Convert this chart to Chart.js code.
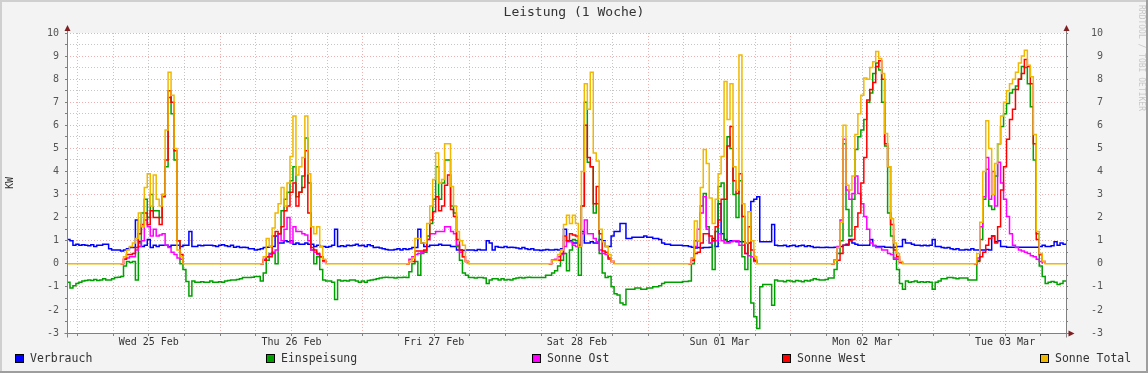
<!DOCTYPE html>
<html>
<head>
<meta charset="utf-8">
<script src="https://cdn.jsdelivr.net/npm/chart.js@4.4.1/dist/chart.umd.min.js"></script>
<style>
  html,body{margin:0;padding:0;background:#f3f3f3;}
  #c{display:block;}
</style>
</head>
<body>
<canvas id="c" width="1148" height="373"></canvas>
<script>
// Leistung (1 Woche) – 30-Minuten-Werte, Start Di 24.02. ca. 22:13, 336 Schritte
const dayLabels = ["Wed 25 Feb","Thu 26 Feb","Fri 27 Feb","Sat 28 Feb","Sun 01 Mar","Mon 02 Mar","Tue 03 Mar"];
const seriesNames = ["Verbrauch","Einspeisung","Sonne Ost","Sonne West","Sonne Total"];

const verbrauch = [
  1.05,1.0,0.8,0.85,0.8,0.82,0.8,0.78,0.82,0.75,0.8,0.8,0.85,0.85,0.65,0.6,0.6,0.6,0.55,0.6,0.65,0.7,0.7,1.9,0.95,0.75,0.8,1.05,0.7,0.8,0.75,0.8,0.8,0.8,0.75,0.8,0.8,0.8,0.75,0.8,0.8,1.4,0.75,0.75,0.8,0.78,0.8,0.8,
  0.8,0.78,0.75,0.8,0.82,0.78,0.75,0.8,0.72,0.75,0.7,0.72,0.7,0.65,0.65,0.6,0.62,0.65,0.7,0.72,0.75,0.75,1.2,0.9,0.9,1.0,0.95,1.0,0.85,0.9,0.85,0.85,0.9,0.85,0.85,0.75,0.8,0.75,0.75,0.72,0.75,0.8,1.5,0.75,0.78,0.75,0.8,0.78,
  0.8,0.85,0.78,0.8,0.75,0.82,0.78,0.7,0.72,0.68,0.65,0.62,0.6,0.6,0.62,0.65,0.6,0.65,0.62,0.65,0.7,0.7,1.5,0.9,0.75,0.75,0.8,0.8,0.8,0.85,0.8,0.8,0.8,0.75,0.75,0.6,0.6,0.58,0.6,0.6,0.6,0.58,0.62,0.6,0.6,1.0,0.9,0.6,
  0.75,0.72,0.7,0.75,0.7,0.72,0.7,0.68,0.65,0.7,0.65,0.62,0.65,0.6,0.6,0.58,0.6,0.62,0.6,0.6,0.62,0.6,0.65,1.5,1.0,1.0,0.9,0.9,0.8,1.4,0.9,0.9,0.95,0.9,0.9,1.05,1.0,0.75,0.75,1.2,1.4,1.4,1.75,1.75,1.1,1.1,1.15,1.15,
  1.15,1.15,1.2,1.15,1.15,1.1,1.1,1.05,0.9,0.85,0.85,0.8,0.8,0.8,0.8,0.78,0.78,0.75,0.72,0.68,0.7,0.68,0.7,0.7,0.72,1.1,0.75,2.6,1.3,1.05,0.95,1.0,1.0,0.95,0.95,0.95,0.9,0.9,2.7,2.8,2.9,0.95,0.95,0.95,0.95,1.7,0.8,0.78,
  0.78,0.8,0.75,0.78,0.8,0.75,0.78,0.8,0.75,0.78,0.75,0.7,0.72,0.7,0.7,0.72,0.7,0.7,0.72,0.7,0.75,0.8,0.85,1.05,0.9,0.85,0.8,0.8,0.8,0.8,1.05,0.78,0.75,0.75,0.75,0.72,0.72,0.7,0.72,0.75,0.75,1.05,0.9,0.9,0.85,0.8,0.8,0.78,
  0.8,0.78,0.8,1.05,0.75,0.75,0.7,0.68,0.7,0.65,0.62,0.65,0.6,0.6,0.62,0.6,0.65,0.6,0.6,0.6,0.6,0.62,0.6,1.2,0.95,1.0,0.75,0.75,0.72,0.72,0.72,0.72,0.72,0.72,0.72,0.72,0.72,0.72,0.72,0.75,0.8,0.75,0.75,0.78,0.95,0.8,0.9,0.85
];
const einspeisung = [
  -0.8,-1.05,-0.95,-0.85,-0.8,-0.75,-0.72,-0.7,-0.72,-0.68,-0.72,-0.7,-0.65,-0.7,-0.7,-0.65,-0.6,-0.58,-0.55,-0.1,0.1,0.05,0.1,-0.7,0.9,2.2,2.8,2.0,3.0,2.3,2.3,2.0,3.0,4.2,7.2,6.5,4.5,1.0,0.0,-0.25,-0.77,-1.4,-0.75,-0.8,-0.8,-0.78,-0.8,-0.8,
  -0.75,-0.8,-0.8,-0.78,-0.8,-0.75,-0.72,-0.7,-0.7,-0.68,-0.65,-0.6,-0.6,-0.6,-0.58,-0.55,-0.55,-0.75,-0.4,0.15,0.45,0.45,0.0,1.3,2.3,2.8,3.1,3.6,4.2,2.9,3.1,3.8,5.45,3.5,0.6,0.0,0.3,-0.25,-0.7,-0.75,-0.75,-0.8,-1.55,-0.7,-0.75,-0.72,-0.75,-0.7,
  -0.7,-0.75,-0.8,-0.75,-0.8,-0.72,-0.7,-0.68,-0.65,-0.62,-0.6,-0.58,-0.6,-0.6,-0.62,-0.6,-0.6,-0.58,-0.6,-0.35,0.0,0.1,-0.5,0.45,0.5,1.2,1.75,2.8,4.2,2.8,3.5,4.5,4.5,2.5,2.2,0.75,0.15,-0.4,-0.5,-0.6,-0.6,-0.62,-0.6,-0.6,-0.62,-0.85,-0.7,-0.65,
  -0.65,-0.7,-0.65,-0.7,-0.68,-0.7,-0.65,-0.62,-0.6,-0.62,-0.6,-0.58,-0.6,-0.6,-0.6,-0.6,-0.6,-0.5,-0.5,-0.4,-0.3,-0.1,0.15,0.45,-0.3,0.6,1.05,1.0,-0.5,2.5,7.0,4.4,4.2,2.2,2.6,0.45,-0.4,-0.6,-0.55,-1.0,-1.3,-1.35,-1.7,-1.78,-1.1,-1.1,-1.1,-1.05,
  -1.05,-1.1,-1.1,-1.05,-1.05,-1.0,-1.0,-0.95,-0.85,-0.8,-0.8,-0.8,-0.8,-0.8,-0.8,-0.77,-0.77,-0.75,0.0,1.0,1.0,2.5,3.05,1.6,0.9,-0.25,1.4,3.35,3.5,1.0,5.5,5.0,3.0,2.0,3.6,0.3,-0.25,0.9,-1.7,-2.3,-2.8,-1.0,-0.9,-0.9,-0.9,-1.8,-0.7,-0.75,
  -0.75,-0.78,-0.72,-0.75,-0.78,-0.72,-0.75,-0.78,-0.72,-0.75,-0.7,-0.65,-0.68,-0.7,-0.7,-0.68,-0.62,-0.62,-0.25,0.45,1.0,5.2,2.35,1.2,2.8,4.95,5.5,5.8,6.25,7.0,7.4,8.25,8.7,8.4,7.0,5.1,2.2,1.2,0.2,-0.25,-0.85,-1.1,-0.75,-0.8,-0.78,-0.75,-0.8,-0.78,
  -0.8,-0.78,-0.8,-1.1,-0.8,-0.75,-0.65,-0.65,-0.6,-0.6,-0.62,-0.65,-0.62,-0.62,-0.62,-0.7,-0.7,-0.7,0.15,1.05,2.8,4.1,2.5,2.35,3.8,5.2,5.95,6.5,6.95,7.4,7.55,7.7,8.0,8.55,8.5,7.8,6.8,4.5,1.3,-0.1,-0.55,-0.85,-0.8,-0.77,-0.8,-0.9,-0.85,-0.75
];
const sonneOst = [
  0,0,0,0,0, 0,0,0,0,0, 0,0,0,0,0, 0,0,0,0, 0.2,0.25,0.3,0.3,0.6,0.75,1.0,1.9,1.6,1.2,1.5,1.2,1.25,1.3,0.8,0.7,0.5,0.4,0.25,0.2, 0,0,0,0,0, 0,0,0,0,
  0,0,0,0,0, 0,0,0,0,0, 0,0,0,0,0, 0,0,0, 0.2,0.3,0.4,0.5,0.6,1.3,1.0,1.5,2.0,0.9,1.6,1.4,1.4,1.3,1.25,1.0,0.6,0.5,0.4,0.3,0.1, 0,0,0,0,0, 0,0,0,0,
  0,0,0,0,0, 0,0,0,0,0, 0,0,0,0,0, 0,0,0,0, 0.2,0.3,0.4,0.45,0.5,0.55,1.05,1.3,1.3,1.4,1.4,1.4,1.6,1.6,1.4,1.3,0.8,0.5,0.3,0.1, 0,0,0,0,0, 0,0,0,0,
  0,0,0,0,0, 0,0,0,0,0, 0,0,0,0,0, 0,0,0,0, 0.15,0.2,0.3,0.4,0.75,0.95,0.95,0.8,0.75,0.75,1.3,1.9,1.3,1.3,1.1,0.95,0.6,0.45,0.4,0.2,0.1, 0,0,0,0,0, 0,0,0,
  0,0,0,0,0, 0,0,0,0,0, 0,0,0,0,0, 0,0,0, 0.25,0.75,1.5,2.2,2.9,1.5,0.9,1.0,1.0,1.3,1.0,0.9,0.9,0.95,1.0,1.0,0.8,0.8,0.45,0.35,0.3,0.1, 0,0,0,0,0, 0,0,0,
  0,0,0,0,0, 0,0,0,0,0, 0,0,0,0,0, 0,0,0, 0.15,0.75,1.9,5.4,3.2,2.8,3.05,3.8,3.05,2.6,2.05,1.5,0.9,0.8,0.7,0.7,0.6,0.6,0.45,0.4,0.25,0.2,0.05, 0,0,0,0,0, 0,0,
  0,0,0,0,0, 0,0,0,0,0, 0,0,0,0,0, 0,0,0, 0.25,1.6,2.9,4.6,2.8,4.0,2.5,4.4,3.5,2.8,2.05,1.3,0.8,0.7,0.6,0.55,0.5,0.45,0.35,0.3,0.2,0.1, 0,0,0,0,0, 0,0,0
];
const sonneWest = [
  0,0,0,0,0, 0,0,0,0,0, 0,0,0,0,0, 0,0,0,0, 0.2,0.4,0.4,0.45,0.7,1.3,1.7,2.2,1.7,2.3,2.0,2.0,1.7,2.9,4.5,7.5,7.0,4.9,1.0,0.4, 0,0,0,0,0, 0,0,0,0,
  0,0,0,0,0, 0,0,0,0,0, 0,0,0,0,0, 0,0,0, 0.15,0.3,0.3,1.2,1.4,1.3,1.6,2.3,2.5,3.1,3.5,2.5,3.1,3.3,4.9,2.2,0.7,0.6,0.45,0.3,0.15, 0,0,0,0,0, 0,0,0,0,
  0,0,0,0,0, 0,0,0,0,0, 0,0,0,0,0, 0,0,0,0, 0.1,0.1,0.55,0.55,0.55,0.6,1.05,1.9,2.25,2.9,2.3,2.5,3.4,3.85,2.35,2.05,1.05,0.6,0.3,0.1, 0,0,0,0,0, 0,0,0,0,
  0,0,0,0,0, 0,0,0,0,0, 0,0,0,0,0, 0,0,0,0, 0.15,0.15,0.15,0.45,1.2,1.0,1.3,1.25,1.2,0.75,2.5,6.0,4.6,4.2,2.6,3.35,1.3,0.55,0.5,0.25,0.1, 0,0,0,0,0, 0,0,0,
  0,0,0,0,0, 0,0,0,0,0, 0,0,0,0,0, 0,0,0, 0.15,0.45,0.5,0.9,1.3,1.3,1.2,1.0,1.6,1.9,2.8,2.8,5.1,5.95,3.6,3.05,3.9,2.05,0.45,1.6,0.6,0.15, 0,0,0,0,0, 0,0,0,
  0,0,0,0,0, 0,0,0,0,0, 0,0,0,0,0, 0,0,0, 0.15,0.15,0.45,0.8,0.8,1.0,1.05,1.6,2.2,3.5,4.6,7.1,7.55,7.85,8.55,8.8,8.0,5.2,4.2,1.7,0.6,0.3,0.05, 0,0,0,0,0, 0,0,
  0,0,0,0,0, 0,0,0,0,0, 0,0,0,0,0, 0,0,0, 0.1,0.3,0.5,0.8,1.1,1.2,0.9,1.6,3.2,4.2,5.4,6.25,6.7,7.55,8.0,8.25,8.85,8.55,7.8,5.2,1.05,0.4,0.1, 0,0,0,0,0, 0,0
];
const sonneTotal = [
  0,0,0,0,0, 0,0,0,0,0, 0,0,0,0,0, 0,0,0,0, 0.3,0.6,0.75,0.9,1.1,2.2,1.6,3.3,3.9,2.5,3.85,2.8,2.5,3.0,5.8,8.3,7.3,5.0,0.6,0.3, 0,0,0,0,0, 0,0,0,0,
  0,0,0,0,0, 0,0,0,0,0, 0,0,0,0,0, 0,0,0, 0.3,1.1,0.75,1.55,2.2,2.6,3.3,2.5,3.5,4.65,6.4,3.85,4.2,4.6,6.4,3.9,1.6,1.3,1.6,0.75,0.2, 0,0,0,0,0, 0,0,0,0,
  0,0,0,0,0, 0,0,0,0,0, 0,0,0,0,0, 0,0,0,0, 0.1,0.25,1.1,1.1,0.9,0.9,1.75,2.5,3.65,4.8,3.5,3.65,5.2,5.2,3.35,2.5,1.4,1.0,0.8,0.1, 0,0,0,0,0, 0,0,0,0,
  0,0,0,0,0, 0,0,0,0,0, 0,0,0,0,0, 0,0,0,0, 0.15,0.15,0.4,0.6,1.7,2.1,1.75,2.1,1.75,0.75,4.0,7.8,6.7,8.3,4.8,4.45,1.5,0.95,0.75,0.4,0.1, 0,0,0,0,0, 0,0,0,
  0,0,0,0,0, 0,0,0,0,0, 0,0,0,0,0, 0,0,0, 0.25,1.85,1.0,3.3,4.95,4.35,2.85,1.75,2.8,3.9,4.65,7.9,6.25,7.8,4.2,3.2,9.05,2.6,0.9,2.25,1.0,0.3, 0,0,0,0,0, 0,0,0,
  0,0,0,0,0, 0,0,0,0,0, 0,0,0,0,0, 0,0,0, 0.15,0.7,1.8,6.0,3.4,3.2,3.8,5.6,6.5,7.3,8.05,8.0,8.5,8.75,9.2,8.9,8.25,5.65,4.2,1.95,0.9,0.45,0.1, 0,0,0,0,0, 0,0,
  0,0,0,0,0, 0,0,0,0,0, 0,0,0,0,0, 0,0,0, 0.45,1.8,4.0,6.2,5.0,3.0,4.35,5.2,6.4,7.0,7.5,7.8,8.0,8.3,8.7,9.0,9.25,8.6,8.1,5.6,1.4,0.45,0.1, 0,0,0,0,0, 0,0
];

const STEPS = 336;          // halbe Stunden in einer Woche
const FIRST_GRID = 3.5;     // erste 6h-Linie (Mi 00:00) in Schritten
const Y_MIN = -3, Y_MAX = 10;
const COLORS = ["#0000ff","#00a000","#ff00ff","#ff0000","#f0b800"];
const GRID = "rgba(128,128,128,0.45)";
const MGRID = "rgba(222,80,80,0.45)";
const W = 1148, H = 373;

const xTicks = [];
for (let v = FIRST_GRID; v < STEPS; v += 12) xTicks.push(v);
const yTicks = [];
for (let v = Y_MIN; v <= Y_MAX; v += 0.5) yTicks.push(v);

function toPoints(arr) {
  const pts = arr.map((v,i)=>({x:i,y:v}));
  pts.push({x:arr.length,y:arr[arr.length-1]});
  return pts;
}
// Sonne Ost/West: Nachtlinie bei 0 nicht zeichnen, dort liegt nur Sonne Total
const hideZero = {borderColor:c=>(c.p0.parsed.y===0&&c.p1.parsed.y===0)?"rgba(0,0,0,0)":undefined};
function line(i, data, order, seg) {
  return {label:seriesNames[i],data:toPoints(data),borderColor:COLORS[i],backgroundColor:COLORS[i],
    borderWidth:1.5,pointRadius:0,stepped:"before",fill:false,order,borderJoinStyle:"miter",segment:seg||{}};
}

const rrdFrame = {
  id:"rrdFrame",
  beforeDraw(chart) {
    const {ctx,chartArea:a} = chart;
    ctx.save();
    ctx.fillStyle="#f3f3f3"; ctx.fillRect(0,0,W,H);
    ctx.fillStyle="#cfcfcf"; ctx.fillRect(0,0,W,2); ctx.fillRect(0,0,2,H);
    ctx.fillStyle="#9e9e9e"; ctx.fillRect(0,H-2,W,2); ctx.fillRect(W-2,0,2,H);
    ctx.fillStyle="#fff"; ctx.fillRect(a.left,a.top,a.right-a.left,a.bottom-a.top);
    ctx.restore();
  },
  afterDatasetsDraw(chart) {
    const {ctx,chartArea:a} = chart;
    const L=Math.round(a.left)+0.5, R=Math.round(a.right)+0.5, B=Math.round(a.bottom)+0.5;
    ctx.save();
    ctx.strokeStyle="#808080"; ctx.lineWidth=1;
    ctx.beginPath();
    ctx.moveTo(L,B+4); ctx.lineTo(L,a.top-4);
    ctx.moveTo(L-3,B); ctx.lineTo(R+4,B);
    ctx.moveTo(R,B+4); ctx.lineTo(R,a.top-4);
    ctx.stroke();
    ctx.fillStyle="#7f1f1f";
    const tri=(p)=>{ctx.beginPath();ctx.moveTo(p[0],p[1]);ctx.lineTo(p[2],p[3]);ctx.lineTo(p[4],p[5]);ctx.closePath();ctx.fill();};
    tri([L,a.top-8, L-3,a.top-2, L+3,a.top-2]);
    tri([R,a.top-8, R-3,a.top-2, R+3,a.top-2]);
    tri([R+8,B, R+2,B-3, R+2,B+3]);
    ctx.restore();
  },
  afterDraw(chart) {
    const {ctx} = chart;
    ctx.save();
    ctx.fillStyle="#333"; ctx.textBaseline="middle";
    ctx.font="13px 'DejaVu Sans Mono'"; ctx.textAlign="center";
    ctx.fillText("Leistung (1 Woche)",574,13);
    ctx.save(); ctx.translate(10,183); ctx.rotate(-Math.PI/2);
    ctx.font="10px 'DejaVu Sans Mono'"; ctx.fillText("KW",0,0); ctx.restore();
    ctx.save(); ctx.translate(1141,5); ctx.rotate(Math.PI/2);
    ctx.font="8px 'DejaVu Sans Mono'"; ctx.fillStyle="#c8c8c8"; ctx.textAlign="left";
    ctx.fillText("RRDTOOL / TOBI OETIKER",0,0); ctx.restore();
    // legend
    const legendX=[15,266,532,782,1040];
    ctx.font="11.5px 'DejaVu Sans Mono'"; ctx.textAlign="left";
    chart.data.datasets.forEach((d,i)=>{
      const x=legendX[i];
      ctx.fillStyle=d.borderColor; ctx.fillRect(x,354,9,9);
      ctx.strokeStyle="#000"; ctx.lineWidth=1; ctx.strokeRect(x+0.5,354.5,8,8);
      ctx.fillStyle="#333"; ctx.fillText(d.label,x+15,359);
    });
    ctx.restore();
  }
};

Chart.defaults.font.family="'DejaVu Sans Mono', monospace";
Chart.defaults.font.size=10;

new Chart(document.getElementById("c"),{
  type:"line",
  data:{datasets:[
    line(0,verbrauch,4),
    line(1,einspeisung,3),
    line(2,sonneOst,2,hideZero),
    line(3,sonneWest,1,hideZero),
    line(4,sonneTotal,0)
  ]},
  options:{
    responsive:false,animation:false,devicePixelRatio:1,
    layout:{padding:{left:0,right:45,top:33,bottom:0}},
    plugins:{legend:{display:false},tooltip:{enabled:false}},
    scales:{
      x:{type:"linear",min:0,max:STEPS,
        afterBuildTicks:ax=>{ax.ticks=xTicks.map(v=>({value:v}));},
        ticks:{autoSkip:false,maxRotation:0,padding:0,color:"#333",
          callback:(v,i)=>i%4===2?dayLabels[(i-2)/4]:""},
        grid:{color:c=>(c.index%4===0&&c.index>0)?MGRID:GRID,tickColor:"#808080",tickLength:3},
        border:{display:false,dash:[1,2]},
        afterFit:ax=>{ax.height=40;}},
      y:{type:"linear",min:Y_MIN,max:Y_MAX,position:"left",
        afterBuildTicks:ax=>{ax.ticks=yTicks.map(v=>({value:v}));},
        ticks:{autoSkip:false,padding:6,color:"#555",callback:v=>Number.isInteger(v)?String(v):""},
        grid:{color:c=>Number.isInteger(c.tick.value)?MGRID:GRID,tickColor:"#808080",tickLength:2},
        border:{display:false,dash:[1,2]},
        afterFit:ax=>{ax.width=67;}},
      y2:{type:"linear",min:Y_MIN,max:Y_MAX,position:"right",
        afterBuildTicks:ax=>{ax.ticks=yTicks.map(v=>({value:v}));},
        ticks:{autoSkip:false,padding:6,color:"#555",crossAlign:"far",callback:v=>Number.isInteger(v)?String(v):""},
        grid:{drawOnChartArea:false,tickColor:"#808080",tickLength:2},
        border:{display:false},
        afterFit:ax=>{ax.width=37;}}
    }
  },
  plugins:[rrdFrame]
});
</script>
</body>
</html>
